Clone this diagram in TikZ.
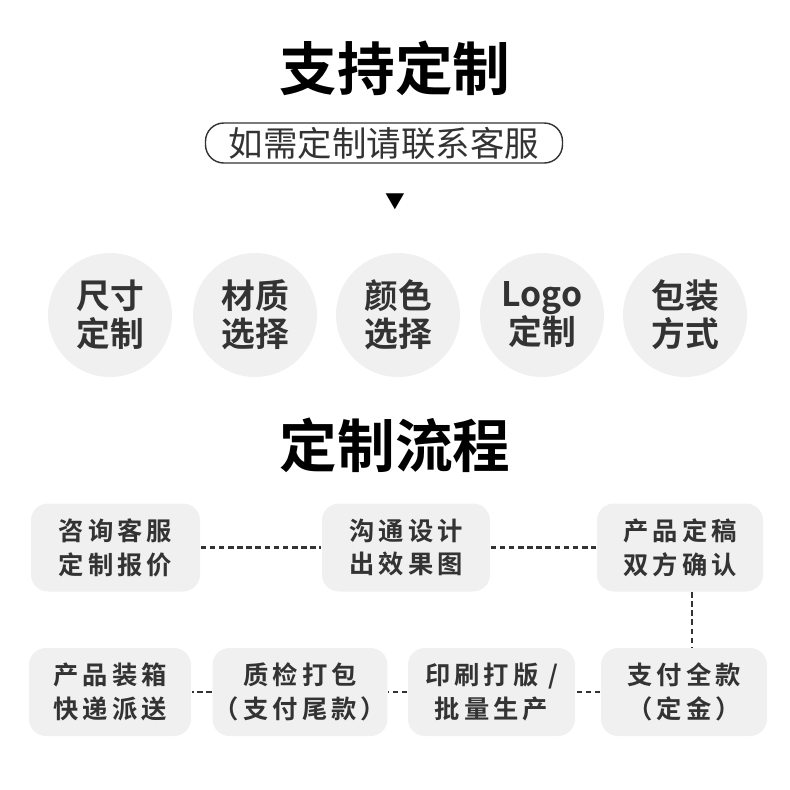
\documentclass[tikz,border=0pt]{standalone}
\usepackage{fontspec}
\setmainfont{Noto Sans CJK SC}[BoldFont={Noto Sans CJK SC Bold}]
\newfontfamily\boxfont{Noto Sans CJK SC Bold}[LetterSpace=16]
\usetikzlibrary{positioning}
\definecolor{ink}{HTML}{333333}
\definecolor{pale}{HTML}{F0F0F0}
\begin{document}
\begin{tikzpicture}[x=0.025cm,y=-0.025cm,thick,
	title/.style={font=\fontsize{41}{46}\selectfont\bfseries,text=black},
	ball/.style={circle,fill=pale,minimum size=124*0.025cm,align=center,text=ink,
		font=\fontsize{24}{27}\selectfont\bfseries},
	stage/.style={rounded corners=12,fill=pale,minimum height=88*0.025cm,align=center,text=ink,
		inner xsep=1pt,font=\boxfont\fontsize{18}{24}\selectfont},
	link/.style={draw=ink,dash pattern=on 4pt off 2.5pt,line width=1.6pt}]
	\useasboundingbox (0,0) rectangle (790,790);
	
	\node[title] (head) at (395,68) {支持定制};
	\node[draw=ink,line width=1pt,rounded corners=13pt,minimum width=357*0.025cm,minimum height=40*0.025cm,
		font=\fontsize{24.5}{26}\selectfont,text=ink,inner sep=0pt] (call) at (384,143) {如需定制请联系客服};
	\node[font=\fontsize{14}{14}\selectfont] (tri) at (395,202) {▼};
	
	\node[ball] (c1) at (110,315) {尺寸\\定制};
	\node[ball] (c2) at (255,315) {材质\\选择};
	\node[ball] (c3) at (398,315) {颜色\\选择};
	\node[ball] (c4) at (542,315) {Logo\\定制};
	\node[ball] (c5) at (685,315) {包装\\方式};
	
	\node[title] (flow) at (395,445) {定制流程};
	
	\node[stage,minimum width=169*0.025cm] (s1) at (115.5,547.5) {咨询客服\\定制报价};
	\node[stage,minimum width=168*0.025cm] (s2) at (406,547.5) {沟通设计\\出效果图};
	\node[stage,minimum width=166*0.025cm] (s3) at (680,547.5) {产品定稿\\双方确认};
	\node[stage,minimum width=166*0.025cm] (s4) at (684,692) {支付全款\\（定金）};
	\node[stage,minimum width=167*0.025cm] (s5) at (491.5,692) {印刷打版 /\\批量生产};
	\node[stage,minimum width=166*0.025cm] (s6) at (300,692) {质检打包\\（支付尾款）};
	\node[stage,minimum width=162*0.025cm] (s7) at (110,692) {产品装箱\\快递派送};
	
	\draw[link] (s1) -- (s2);
	\draw[link] (s2) -- (s3);
	\draw[link] (s3.south -| 692,0) -- (s4.north -| 692,0);
	\draw[link] (s4) -- (s5);
	\draw[link] (s5) -- (s6);
	\draw[link] (s6) -- (s7);
\end{tikzpicture}
\end{document}
